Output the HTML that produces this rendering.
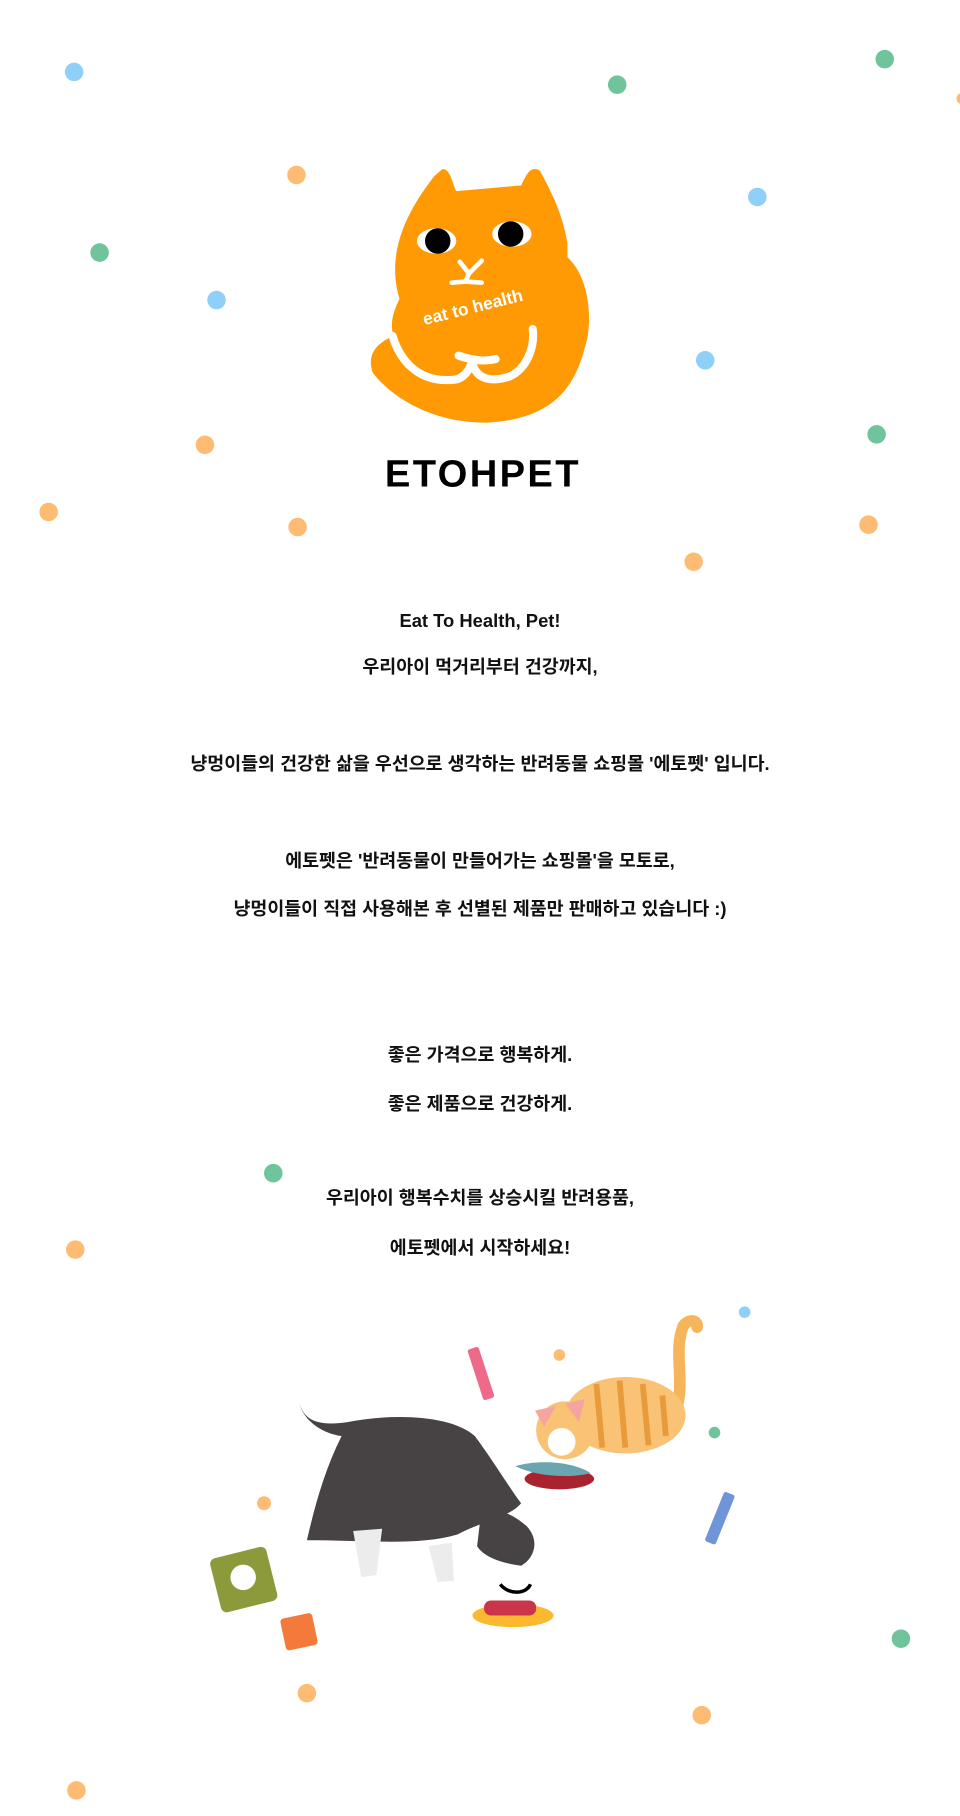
<!DOCTYPE html>
<html><head><meta charset="utf-8"><style>
html,body{margin:0;padding:0;background:#fff;width:960px;height:1816px;overflow:hidden;position:relative}
svg{position:absolute;left:0;top:0}
.t{position:absolute;left:0;width:960px;text-align:center;font-family:"Liberation Sans","Noto Sans CJK KR",sans-serif;font-weight:700;font-size:18.4px;color:#111;line-height:20px}
</style></head><body>
<svg width="960" height="1816" viewBox="0 0 829 1568">
<g>
<circle cx="64" cy="62" r="8" fill="#8fd0f8"/><circle cx="533" cy="73" r="8" fill="#6fc49c"/><circle cx="764" cy="51" r="8" fill="#6fc49c"/>
<circle cx="256" cy="151" r="8" fill="#fdbb73"/><circle cx="654" cy="170" r="8" fill="#8fd0f8"/><circle cx="86" cy="218" r="8" fill="#6fc49c"/>
<circle cx="187" cy="259" r="8" fill="#8fd0f8"/><circle cx="609" cy="311" r="8" fill="#8fd0f8"/><circle cx="177" cy="384" r="8" fill="#fdbb73"/>
<circle cx="757" cy="375" r="8" fill="#6fc49c"/><circle cx="42" cy="442" r="8" fill="#fdbb73"/><circle cx="257" cy="455" r="8" fill="#fdbb73"/>
<circle cx="750" cy="453" r="8" fill="#fdbb73"/><circle cx="599" cy="485" r="8" fill="#fdbb73"/><circle cx="831" cy="85" r="5" fill="#fdbb73"/>
<circle cx="236" cy="1013" r="8" fill="#6fc49c"/><circle cx="65" cy="1079" r="8" fill="#fdbb73"/>
<circle cx="643" cy="1133" r="5" fill="#8fd0f8"/><circle cx="483" cy="1170" r="5" fill="#fdbb73"/><circle cx="617" cy="1237" r="5" fill="#6fc49c"/>
<circle cx="228" cy="1298" r="6" fill="#fdbb73"/><circle cx="778" cy="1415" r="8" fill="#6fc49c"/><circle cx="265" cy="1462" r="8" fill="#fdbb73"/>
<circle cx="606" cy="1481" r="8" fill="#fdbb73"/><circle cx="66" cy="1546" r="8" fill="#fdbb73"/>
</g>
<path d="M345 258 C332 215 355 178 375 152 L382 146 C389 145 391 160 394 165 L450 160 C455 150 458 143 466 147 C476 165 486 185 490 210 L490 222 C510 240 512 280 505 300 C495 340 472 362 420 365 C375 365 340 345 322 322 C316 305 326 296 340 290 C336 280 340 268 345 258 Z" fill="#ff9a05"/>
<ellipse cx="377" cy="208" rx="17" ry="11" fill="#fff"/><circle cx="378" cy="208" r="11" fill="#000"/>
<ellipse cx="442" cy="202" rx="17" ry="11" fill="#fff"/><circle cx="441" cy="202" r="11" fill="#000"/>
<path d="M397 226 L405 236 L416 225 M405 236 L402 243 L390 244 M402 243 L416 244" stroke="#fff" stroke-width="4" fill="none" stroke-linecap="round"/>
<text x="362" y="267" transform="rotate(-14 420 255)" font-family="Liberation Sans,sans-serif" font-weight="700" font-size="15" fill="#fff">eat to health</text>
<path d="M339 290 C345 310 360 330 390 328 C400 328 405 320 408 312 M396 307 C410 312 420 312 428 310 M408 314 C412 328 425 330 440 325 C455 318 462 300 460 284" stroke="#fff" stroke-width="7" fill="none" stroke-linecap="round"/>
<text x="417" y="420" text-anchor="middle" font-family="Liberation Sans,sans-serif" font-weight="700" font-size="33" fill="#000" letter-spacing="2">ETOHPET</text>
<path d="M258 1210 C262 1225 272 1232 300 1228 C340 1220 390 1222 410 1240 C425 1260 440 1285 450 1298 C440 1310 420 1312 395 1325 C360 1335 320 1330 265 1330 C272 1300 280 1270 295 1240 C280 1238 262 1228 258 1210 Z" fill="#474244"/>
<path d="M305 1322 L330 1320 L325 1360 L312 1362 Z" fill="#ececec"/><path d="M370 1335 L390 1332 L392 1365 L378 1366 Z" fill="#ececec"/>
<path d="M415 1310 C425 1300 440 1305 455 1318 C466 1330 462 1345 450 1352 C435 1350 418 1345 412 1335 Z" fill="#474244"/>
<ellipse cx="443" cy="1395" rx="35" ry="10" fill="#fcb92f"/>
<rect x="418" y="1382" width="45" height="13" rx="6" fill="#c9364a"/>
<path d="M432 1368 C440 1378 455 1376 458 1368" stroke="#000" stroke-width="3" fill="none"/>
<path d="M580 1225 C595 1200 580 1170 590 1145 C595 1138 603 1140 602 1146" stroke="#f6b55a" stroke-width="10" fill="none" stroke-linecap="round"/>
<ellipse cx="540" cy="1222" rx="52" ry="33" fill="#f9c274"/>
<path d="M515 1195 L520 1250 M535 1192 L540 1250 M555 1195 L560 1248 M572 1205 L575 1240" stroke="#e99a3a" stroke-width="5"/>
<circle cx="488" cy="1235" r="25" fill="#f9c274"/><circle cx="485" cy="1245" r="12" fill="#fff"/>
<path d="M462 1218 L470 1232 L480 1214 Z M488 1212 L500 1228 L505 1208 Z" fill="#f4a5a0"/>
<ellipse cx="483" cy="1277" rx="30" ry="9" fill="#a8232f"/>
<path d="M445 1266 C465 1260 495 1262 510 1272 C495 1276 465 1276 445 1266 Z" fill="#6aa6b0"/>
<rect x="410" y="1163" width="10" height="46" rx="2" fill="#ef6a8a" transform="rotate(-18 415 1185)"/>
<rect x="617" y="1288" width="10" height="46" rx="2" fill="#6f95d8" transform="rotate(22 622 1310)"/>
<rect x="185" y="1340" width="50" height="48" rx="5" fill="#8c9a3c" transform="rotate(-14 210 1362)"/>
<circle cx="210" cy="1362" r="11" fill="#fff"/>
<rect x="244" y="1395" width="28" height="28" rx="3" fill="#f47a3c" transform="rotate(-12 258 1408)"/>
</svg>
<div class="t" style="top:611px">Eat To Health, Pet!</div>
<div class="t" style="top:657px">우리아이 먹거리부터 건강까지,</div>
<div class="t" style="top:754px">냥멍이들의 건강한 삶을 우선으로 생각하는 반려동물 쇼핑몰 '에토펫' 입니다.</div>
<div class="t" style="top:851px">에토펫은 '반려동물이 만들어가는 쇼핑몰'을 모토로,</div>
<div class="t" style="top:899px">냥멍이들이 직접 사용해본 후 선별된 제품만 판매하고 있습니다 :)</div>
<div class="t" style="top:1045px">좋은 가격으로 행복하게.</div>
<div class="t" style="top:1094px">좋은 제품으로 건강하게.</div>
<div class="t" style="top:1188px">우리아이 행복수치를 상승시킬 반려용품,</div>
<div class="t" style="top:1238px">에토펫에서 시작하세요!</div>
</body></html>
